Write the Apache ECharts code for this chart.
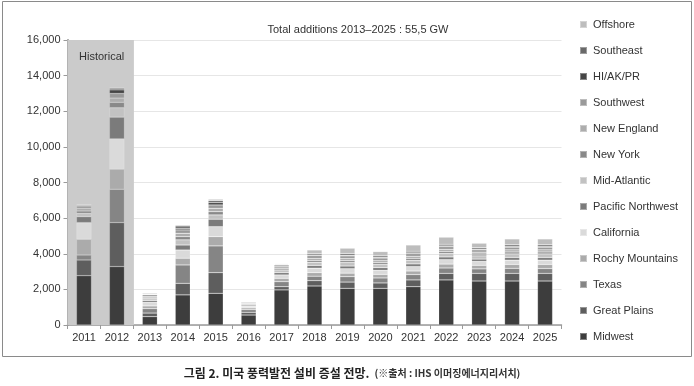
<!DOCTYPE html>
<html><head><meta charset="utf-8">
<script src="https://cdn.jsdelivr.net/npm/echarts@6/dist/echarts.min.js"></script>
<style>html,body{margin:0;padding:0;background:#fff}#c{width:694px;height:386px}</style>
</head><body><div id="c"></div>
<script>
const years = ['2011','2012','2013','2014','2015','2016','2017','2018','2019','2020','2021','2022','2023','2024','2025'];
const yTicks = [0,2000,4000,6000,8000,10000,12000,14000,16000];
// stack order bottom -> top
const Midwest        = [2770,3280, 470,1690,1780, 560,1970,2190,2060,2060,2150,2530,2470,2470,2470];
const GreatPlains    = [ 880,2470, 200, 650,1160, 150, 180, 300, 350, 300, 380, 370, 430, 430, 430];
const Texas          = [ 280,1870, 250,1030,1500, 150, 280, 250, 300, 280, 300, 300, 250, 280, 270];
const RochyMountains = [ 880,1130, 150, 380, 520, 100, 190, 200, 200, 200, 200, 220, 200, 220, 230];
const California     = [ 940,1700, 200, 460, 560, 100, 190, 250, 250, 230, 250, 250, 220, 240, 240];
const PacificNW      = [ 330,1220, 100, 280, 420,  60, 130, 150, 150, 150, 150, 150, 130, 150, 150];
const MidAtlantic    = [ 190, 530, 100, 290, 240,  60, 150, 180, 200, 180, 200, 200, 180, 200, 200];
const NewYork        = [ 130, 300,  50, 180, 180,  40,  90, 100, 100, 100, 110, 110, 100, 110, 110];
const NewEngland     = [ 150, 240,  80, 190, 190,  40,  90, 120, 120, 110, 120, 120, 110, 120, 120];
const Southwest      = [ 130, 260, 100, 190, 190,  40, 100, 150, 150, 150, 150, 150, 130, 150, 150];
const HIAKPR         = [  50, 200,  30,  90, 130,  20,  30,  40,  40,  40,  40,  40,  40,  40,  40];
const Southeast      = [   0, 100,  30, 130, 110,  20,  30,  80,  90,  80,  90,  90,  80,  90,  90];
const Offshore       = [   0,   0,  50,  60,  80,  20,  30, 200, 300, 240, 350, 400, 250, 330, 330];
const historical     = [16000,16000,null,null,null,null,null,null,null,null,null,null,null,null,null];

const seriesDefs = [
  ['Midwest', Midwest, '#3d3d3d'],
  ['Great Plains', GreatPlains, '#5e5e5e'],
  ['Texas', Texas, '#858585'],
  ['Rochy Mountains', RochyMountains, '#ababab'],
  ['California', California, '#dadada'],
  ['Pacific Northwest', PacificNW, '#7b7b7b'],
  ['Mid-Atlantic', MidAtlantic, '#c2c2c2'],
  ['New York', NewYork, '#898989'],
  ['New England', NewEngland, '#adadad'],
  ['Southwest', Southwest, '#9a9a9a'],
  ['HI/AK/PR', HIAKPR, '#454545'],
  ['Southeast', Southeast, '#696969'],
  ['Offshore', Offshore, '#bdbdbd']
];
const legendOrder = seriesDefs.map(d => d[0]).reverse();
const font = 'Liberation Sans, Arial, sans-serif';

const series = [{
  name: 'bg', type: 'bar', xAxisIndex: 1, data: historical, barWidth: 34,
  itemStyle: { color: '#cbcbcb' }, silent: true, z: 1
}].concat(seriesDefs.map(d => ({
  name: d[0], type: 'bar', stack: 'all', data: d[1], barWidth: 15,
  itemStyle: { color: d[2], borderColor: 'rgba(255,255,255,0.35)', borderWidth: 0.5 }, z: 3
})));

const chart = echarts.init(document.getElementById('c'), null, { renderer: 'canvas' });
chart.setOption({
  animation: false,
  backgroundColor: '#fff',
  textStyle: { fontFamily: font },
  title: [
    { text: 'Total additions 2013–2025 : 55,5 GW', left: 353, top: 19, textAlign: 'center',
      textStyle: { fontSize: 11, fontWeight: 'normal', color: '#333', fontFamily: font } },
    { text: '{a|그림 2. 미국 풍력발전 설비 증설 전망.} {b|(※출처 : IHS 이머징에너지리서치)}',
      left: 347, top: 359, textAlign: 'center',
      textStyle: { rich: {
        a: { fontSize: 12, fontWeight: 'bold', color: '#222', fontFamily: 'Noto Sans CJK KR' },
        b: { fontSize: 10, color: '#333', fontFamily: 'Noto Sans CJK KR' } } } }
  ],
  legend: {
    orient: 'vertical', left: 574, top: 14, itemWidth: 7, itemHeight: 7, itemGap: 15,
    icon: 'rect', data: legendOrder,
    textStyle: { fontSize: 11, color: '#333', fontFamily: font, padding: [0, 0, 0, 1] }
  },
  grid: { left: 67.5, right: 132.5, top: 40, bottom: 61, containLabel: false },
  xAxis: [{
    type: 'category', data: years,
    axisLine: { lineStyle: { color: '#9a9a9a', width: 1.5 } },
    axisTick: { show: true, length: 4, lineStyle: { color: '#9a9a9a' } },
    axisLabel: { fontSize: 11, color: '#333', margin: 7, fontFamily: font }
  }, {
    type: 'category', data: years, show: false
  }],
  yAxis: {
    type: 'value', min: 0, max: 16000, interval: 2000,
    axisLine: { show: true, lineStyle: { color: '#9a9a9a', width: 2 } },
    axisTick: { show: true, length: 4, lineStyle: { color: '#9a9a9a' } },
    splitLine: { lineStyle: { color: '#e6e6e6' } },
    axisLabel: { fontSize: 11, color: '#333', margin: 7, fontFamily: font,
      formatter: v => v.toLocaleString('en-US') }
  },
  graphic: [
    { type: 'rect', shape: { x: 2.5, y: 1.5, width: 689, height: 355 },
      style: { fill: null, stroke: '#8a8a8a', lineWidth: 1 }, z: 0, silent: true },
    { type: 'text', left: 79, top: 51, z: 10,
      style: { text: 'Historical', fontSize: 11, fill: '#333', fontFamily: font } }
  ],
  series: series
});
</script></body></html>
